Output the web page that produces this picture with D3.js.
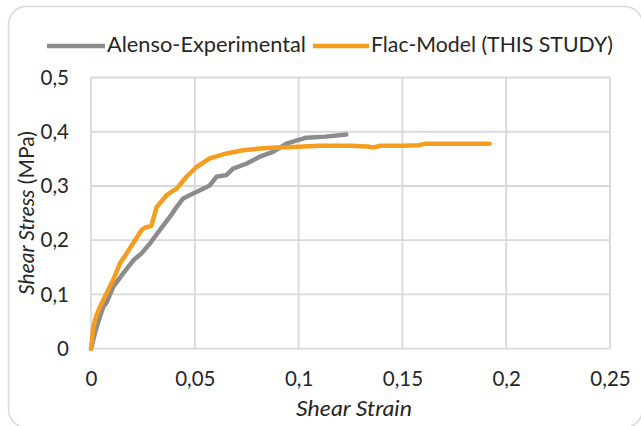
<!DOCTYPE html>
<html>
<head>
<meta charset="utf-8">
<script src="https://cdn.jsdelivr.net/npm/d3@7"></script>
<style>
  html, body { margin: 0; padding: 0; background: #fff; }
  svg { display: block; font-family: Lato, "Open Sans", sans-serif; }
</style>
</head>
<body>
<svg id="chart" width="641" height="426"></svg>
<script>
// Shear stress (MPa) against shear strain for the two curves
const alensoStrain = [0, 0.002, 0.004, 0.0059, 0.0075, 0.0107, 0.0155, 0.0204, 0.0244, 0.0284, 0.0332, 0.038, 0.0412, 0.0444, 0.0492, 0.054, 0.0572, 0.0604, 0.0652, 0.0684, 0.0748, 0.0813, 0.0877, 0.0941, 0.1037, 0.113, 0.123];
const alensoStress = [0, 0.03, 0.055, 0.077, 0.085, 0.114, 0.139, 0.163, 0.176, 0.194, 0.219, 0.243, 0.261, 0.277, 0.286, 0.295, 0.301, 0.317, 0.32, 0.332, 0.341, 0.354, 0.363, 0.378, 0.389, 0.391, 0.395];

const flacStrain = [0, 0.0003, 0.0011, 0.0025, 0.0043, 0.0075, 0.0107, 0.0139, 0.0172, 0.0212, 0.0244, 0.0265, 0.029, 0.0316, 0.0364, 0.0412, 0.046, 0.0508, 0.0572, 0.0652, 0.0732, 0.0813, 0.0893, 0.0973, 0.11, 0.125, 0.133, 0.136, 0.139, 0.15, 0.158, 0.161, 0.175, 0.192];
const flacStress = [0, 0.01, 0.04, 0.06, 0.077, 0.102, 0.127, 0.157, 0.176, 0.2, 0.219, 0.224, 0.226, 0.261, 0.283, 0.295, 0.317, 0.335, 0.351, 0.36, 0.366, 0.369, 0.371, 0.372, 0.374, 0.374, 0.373, 0.371, 0.374, 0.374, 0.375, 0.378, 0.378, 0.378];

const xTicks = [0, 0.05, 0.1, 0.15, 0.2, 0.25];
const yTicks = [0, 0.1, 0.2, 0.3, 0.4, 0.5];
const seriesNames = ["Alenso-Experimental", "Flac-Model (THIS STUDY)"];
const seriesColors = ["#8c8c8c", "#f59d1e"];

const svg = d3.select("#chart");
const plot = { left: 91, right: 610, top: 77.5, bottom: 348.7 };

const x = d3.scaleLinear().domain([0, 0.25]).range([plot.left, plot.right]);
const y = d3.scaleLinear().domain([0, 0.5]).range([plot.bottom, plot.top]);
const fmt = d => String(d).replace(".", ",");

// outer frame
svg.append("rect")
  .attr("x", 8.5).attr("y", 6.5).attr("width", 634).attr("height", 421)
  .attr("rx", 18).attr("fill", "none").attr("stroke", "#d9d9d9").attr("stroke-width", 1.5);

// grid
const grid = svg.append("g").attr("stroke", "#d9d9d9").attr("stroke-width", 1.8);
grid.selectAll("line.v").data(xTicks).join("line")
  .attr("x1", d => x(d)).attr("x2", d => x(d))
  .attr("y1", plot.top).attr("y2", plot.bottom);
grid.selectAll("line.h").data(yTicks).join("line")
  .attr("x1", plot.left).attr("x2", plot.right)
  .attr("y1", d => y(d)).attr("y2", d => y(d));

// axes (labels only)
const xAxis = svg.append("g")
  .attr("transform", `translate(0,${plot.bottom})`)
  .call(d3.axisBottom(x).tickValues(xTicks).tickFormat(fmt).tickSize(0).tickPadding(23));
const yAxis = svg.append("g")
  .attr("transform", `translate(${plot.left},0)`)
  .call(d3.axisLeft(y).tickValues(yTicks).tickFormat(fmt).tickSize(0).tickPadding(22));
[xAxis, yAxis].forEach(a => {
  a.select(".domain").remove();
  a.selectAll("text").attr("font-family", "Lato, sans-serif").attr("font-size", 20.5).attr("fill", "#262626");
});

// curves
const line = d3.line().x(d => x(d[0])).y(d => y(d[1])).curve(d3.curveLinear);
const alenso = d3.zip(alensoStrain, alensoStress);
const flac = d3.zip(flacStrain, flacStress);
[alenso, flac].forEach((pts, i) => {
  svg.append("path").datum(pts)
    .attr("d", line)
    .attr("fill", "none")
    .attr("stroke", seriesColors[i])
    .attr("stroke-width", 4.5)
    .attr("stroke-linejoin", "round")
    .attr("stroke-linecap", "round");
});

// legend
const legend = [
  { x1: 47, x2: 105, tx: 107, tw: 199 },
  { x1: 313, x2: 369, tx: 371, tw: 242 }
];
legend.forEach((l, i) => {
  svg.append("line").attr("x1", l.x1).attr("x2", l.x2).attr("y1", 46).attr("y2", 46)
    .attr("stroke", seriesColors[i]).attr("stroke-width", 4.5);
  svg.append("text").attr("x", l.tx).attr("y", 52)
    .attr("font-size", 21).attr("fill", "#262626")
    .attr("textLength", l.tw).attr("lengthAdjust", "spacingAndGlyphs")
    .text(seriesNames[i]);
});

// axis titles
svg.append("text").attr("x", 354).attr("y", 416).attr("text-anchor", "middle")
  .attr("font-size", 21).attr("font-style", "italic").attr("fill", "#262626")
  .attr("textLength", 116).attr("lengthAdjust", "spacingAndGlyphs")
  .text("Shear Strain");

const yTitle = svg.append("text")
  .attr("transform", "translate(34,213) rotate(-90)")
  .attr("text-anchor", "middle").attr("font-size", 21).attr("fill", "#262626");
yTitle.append("tspan").attr("font-style", "italic").text("Shear Stress");
yTitle.append("tspan").text(" (MPa)");
</script>
</body>
</html>
